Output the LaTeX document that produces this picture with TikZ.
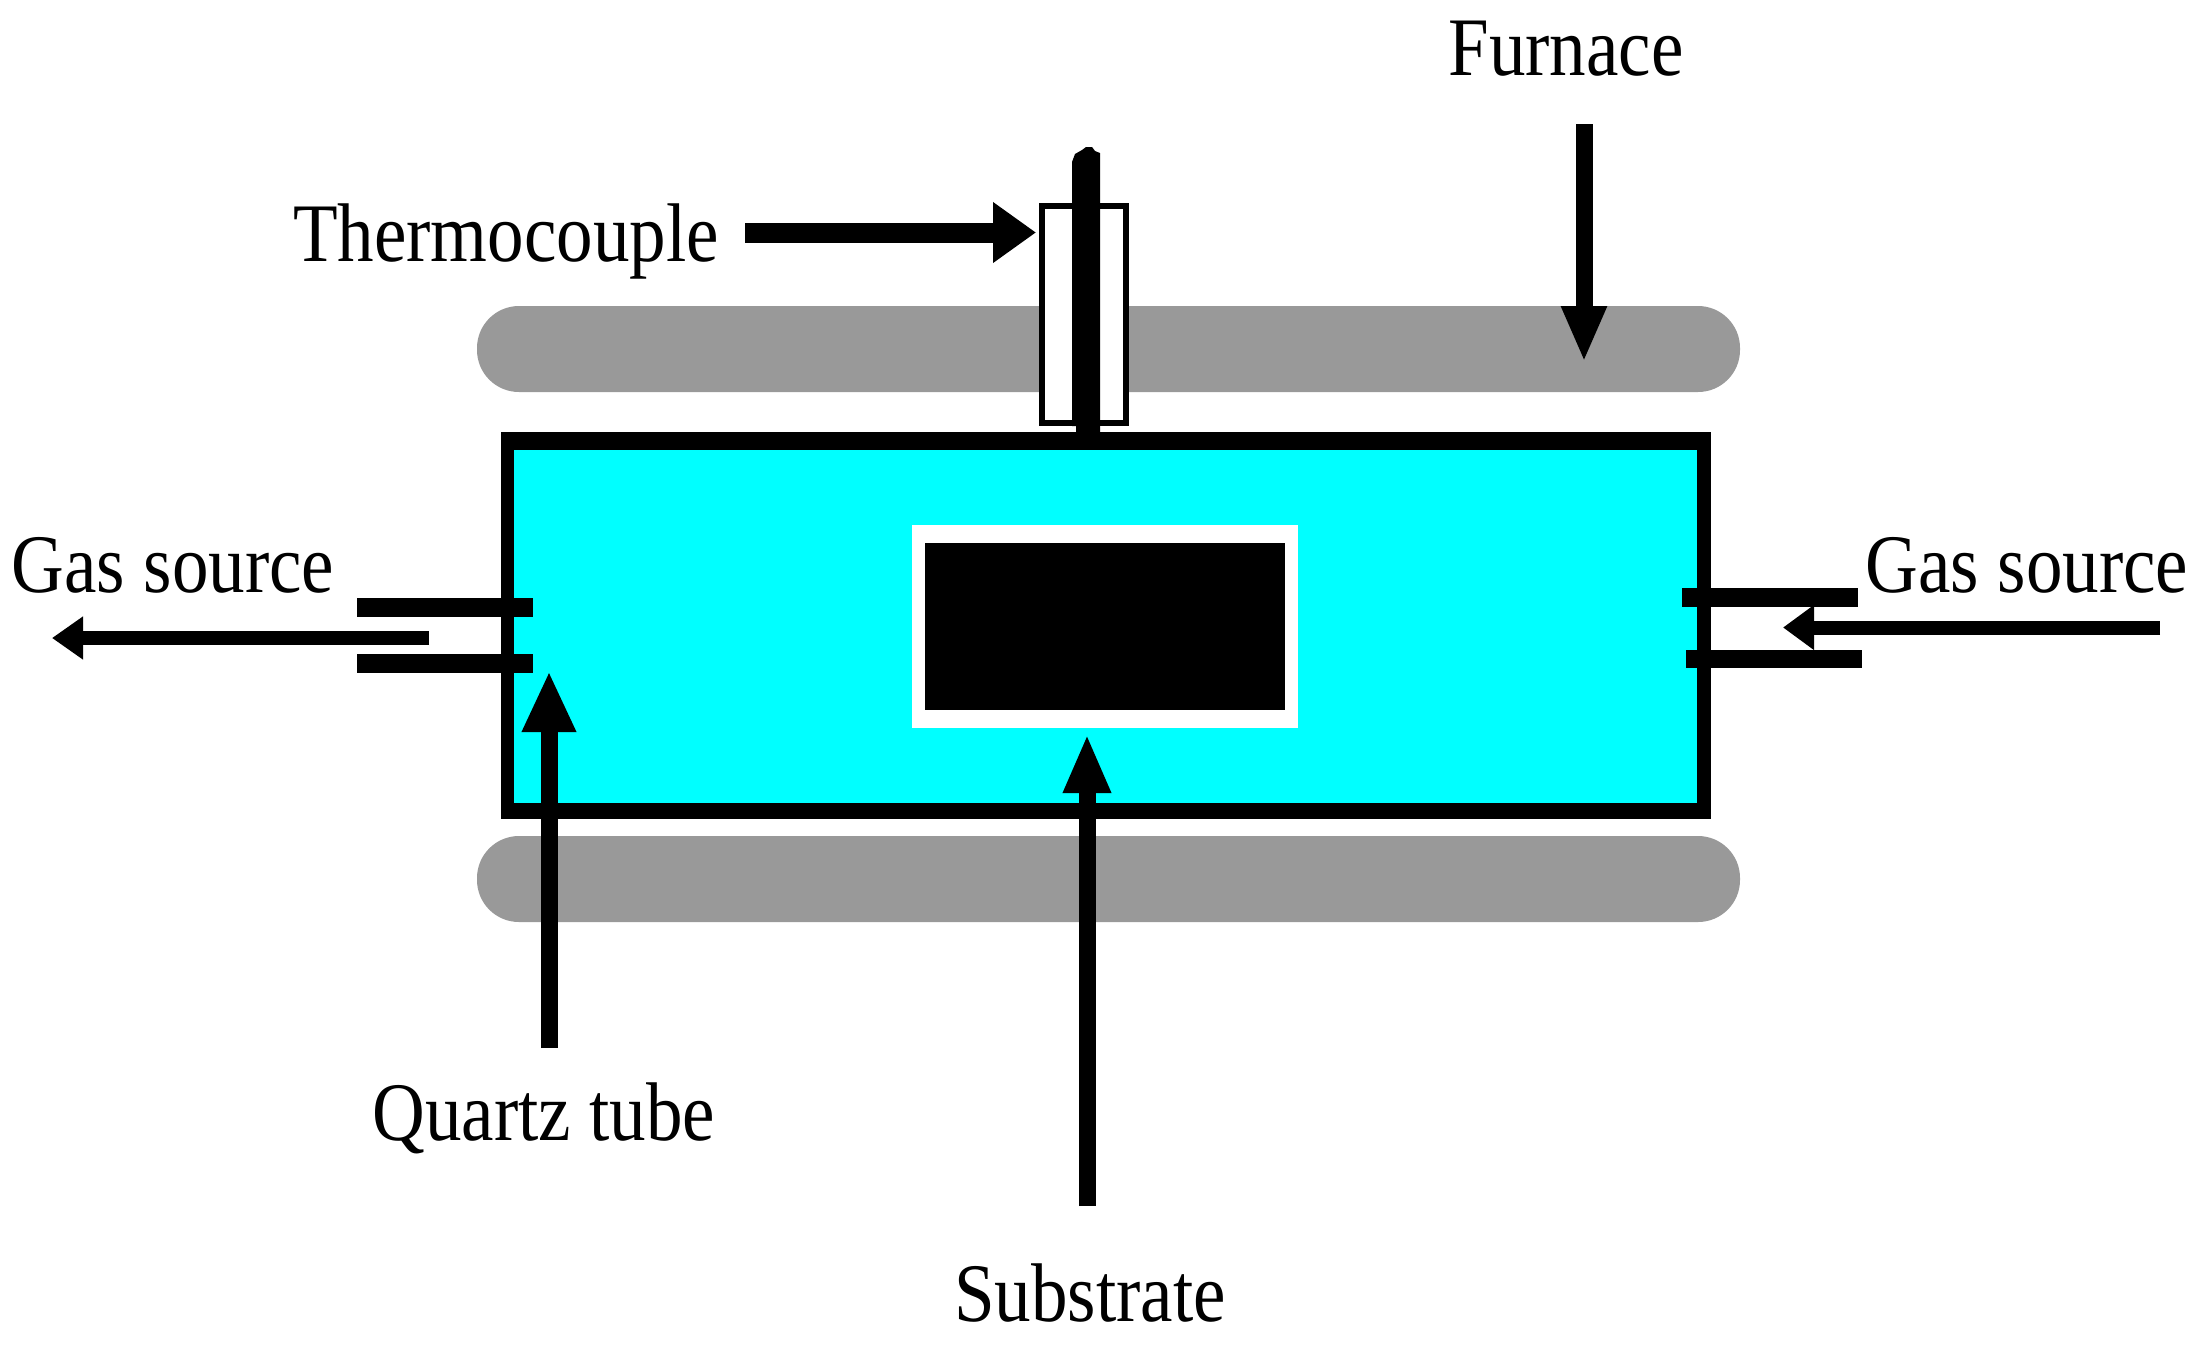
\documentclass[tikz,border=0pt]{standalone}
\usepackage{fontspec}
\setmainfont{Liberation Serif}
\usetikzlibrary{arrows.meta}
\definecolor{barGray}{HTML}{999999}
\definecolor{tubeCyan}{HTML}{00FFFF}
\tikzset{
  furnacebar/.style={fill=barGray, rounded corners=42pt},
  tubewall/.style={fill=black},
  label/.style={anchor=base, inner sep=0pt, font=\fontsize{73}{80}\selectfont},
  callout/.style n args={3}{draw=black, line width=#3, -{Triangle[length=#1,width=#2]}},
}
\newcommand{\lbl}[2][1]{\scalebox{#1}[1.14]{#2}}
\begin{document}
\begin{tikzpicture}[x=1pt,y=-1pt]
\useasboundingbox[fill=white] (0,0) rectangle (2200,1350);
% furnace
\path[furnacebar] (477,306) rectangle (1740,392);
\path[furnacebar] (477,836) rectangle (1740,922);
% tube
\path[tubewall] (501,432) rectangle (1711,819);
\fill[tubeCyan] (514,450) rectangle (1697,803);
% substrate
\fill[white] (912,525) rectangle (1298,728);
\fill[black] (925,543) rectangle (1285,710);
% thermocouple sleeve and rod
\draw[black,line width=6.5pt,fill=white] (1042,206) rectangle (1126,423);
\fill[black] (1076,434) -- (1076,426) -- (1072,426) -- (1072,162) -- (1075,154) -- (1082,150) -- (1086,147) -- (1092,147) -- (1095,151) -- (1100,153) -- (1100,434) -- cycle;
% gas pipes
\path[tubewall] (357,598) rectangle (533,617);
\path[tubewall] (357,654) rectangle (533,673);
\path[tubewall] (1682,588) rectangle (1858,607);
\path[tubewall] (1686,650) rectangle (1862,668);
% arrow ends
\coordinate (thermoStart) at (745,232.5);
\coordinate (thermoTip) at (1036,232.5);
\coordinate (furnaceStart) at (1584,124);
\coordinate (furnaceTip) at (1584,362);
\coordinate (subStart) at (1087,1206);
\coordinate (subTip) at (1087,734);
\coordinate (quartzStart) at (549,1048);
\coordinate (quartzTip) at (549,671);
\coordinate (gasOutStart) at (429,638);
\coordinate (gasOutTip) at (52,638);
\coordinate (gasInStart) at (2160,627.5);
\coordinate (gasInTip) at (1783,627.5);
\draw[callout={43pt}{58pt}{20pt}] (thermoStart) -- (thermoTip);
\draw[callout={56pt}{42pt}{17pt}] (furnaceStart) -- (furnaceTip);
\draw[callout={59pt}{44pt}{17pt}] (subStart) -- (subTip);
\draw[callout={61pt}{50pt}{17pt}] (quartzStart) -- (quartzTip);
\draw[callout={31pt}{41pt}{14pt}] (gasOutStart) -- (gasOutTip);
\draw[callout={31pt}{43pt}{14pt}] (gasInStart) -- (gasInTip);
% labels
\node[label] (furnaceLabel) at (1566,75) {\lbl{Furnace}};
\node[label] (thermoLabel) at (506,261) {\lbl{Thermocouple}};
\node[label] (gasLeft) at (173,592) {\lbl{Gas source}};
\node[label] (gasRight) at (2027,592) {\lbl{Gas source}};
\node[label] (quartzLabel) at (544,1140) {\lbl{Quartz tube}};
\node[label] (substrateLabel) at (1090,1321) {\lbl{Substrate}};
\end{tikzpicture}
\end{document}
